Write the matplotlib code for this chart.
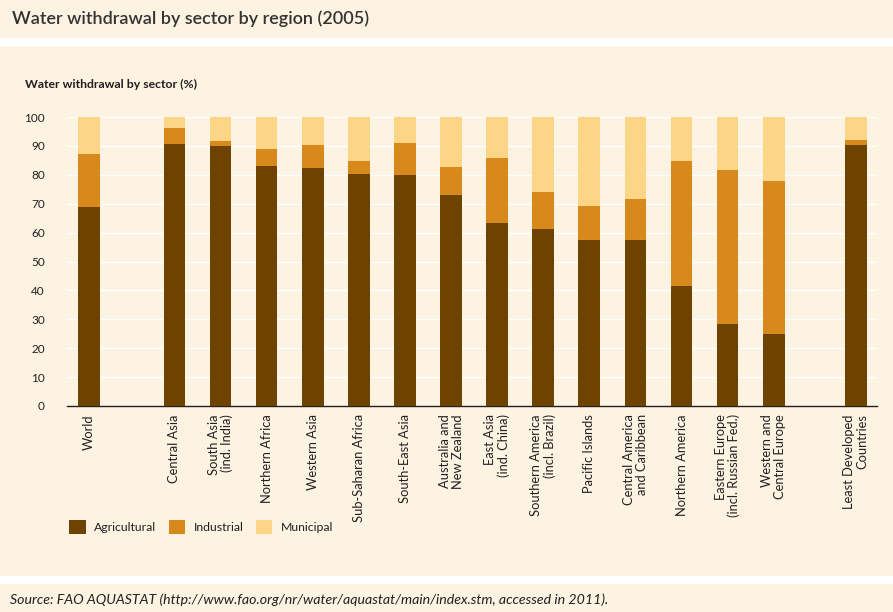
import numpy as np
import matplotlib
matplotlib.use("Agg")
import matplotlib.pyplot as plt
from matplotlib.patches import Rectangle, Patch

plt.rcParams["font.family"] = ["Lato", "DejaVu Sans"]

# data (% of total withdrawal)
regions = [
    "World", "Central Asia", "South Asia\n(ind. India)", "Northern Africa",
    "Western Asia", "Sub-Saharan Africa", "South-East Asia",
    "Australia and\nNew Zealand", "East Asia\n(ind. China)",
    "Southern America\n(incl. Brazil)", "Pacific Islands",
    "Central America\nand Caribbean", "Northern America",
    "Eastern Europe\n(incl. Russian Fed.)", "Western and\nCentral Europe",
    "Least Developed\nCountries",
]
agricultural = [69.0, 90.8, 90.1, 83.0, 82.4, 80.3, 79.9, 73.0, 63.3, 61.4,
                57.4, 57.4, 41.6, 28.4, 24.9, 90.3]
industrial   = [18.2, 5.4, 1.6, 5.9, 7.9, 4.5, 11.1, 9.7, 22.5, 12.6,
                11.8, 14.2, 43.2, 53.3, 53.0, 1.7]
municipal    = [12.8, 3.8, 8.3, 11.1, 9.7, 15.2, 9.0, 17.3, 14.2, 26.0,
                30.8, 28.4, 15.2, 18.3, 22.1, 8.0]
sectors = ["Agricultural", "Industrial", "Municipal"]
yticks = list(range(0, 101, 10))

BG      = "#FDF3E2"
COLORS  = ["#6E4300", "#D8891B", "#FDD586"]
TXT     = "#231F20"
W, H    = 893, 612

# World and LDC sit apart from the regional group
GAP = 0.85
xpos = np.arange(len(regions), dtype=float)
xpos[1:] += GAP
xpos[-1] += GAP - 0.07

fig = plt.figure(figsize=(W / 100, H / 100), dpi=100, facecolor=BG)
# white separator bands
for y0, y1 in [(38, 45), (576, 583)]:
    fig.patches.append(Rectangle((0, 1 - y1 / H), 1, (y1 - y0) / H,
                                 transform=fig.transFigure, color="white", zorder=0))

ax = fig.add_axes([67 / W, 1 - 406 / H, (877 - 67) / W, (406 - 117) / H])
ax.set_facecolor(BG)

bottom = np.zeros(len(regions))
for vals, col, lab in zip([agricultural, industrial, municipal], COLORS, sectors):
    ax.bar(xpos, vals, width=0.47, bottom=bottom, color=col, label=lab, zorder=3)
    bottom += np.array(vals)

ax.set_ylim(0, 100)
ax.set_xlim(xpos[0] - 0.48, xpos[-1] + 0.46)
ax.set_yticks(yticks)
ax.yaxis.grid(True, color="white", lw=0.9, zorder=1)
ax.tick_params(axis="y", length=0, pad=16, labelsize=8.5, labelcolor=TXT)
ax.tick_params(axis="x", length=0, pad=6)
ax.set_xticks(xpos)
ax.set_xticklabels(regions, rotation=90, fontsize=9.3, color=TXT,
                   ha="center", va="top", multialignment="right",
                   linespacing=1.1)
for s in ["top", "right", "left"]:
    ax.spines[s].set_visible(False)
ax.spines["bottom"].set_color("#231F20")
ax.spines["bottom"].set_linewidth(1.0)

fig.text(12 / W, 1 - 24 / H, "Water withdrawal by sector by region (2005)",
         fontsize=13, fontweight="semibold", color="#333333", va="baseline")
fig.text(25 / W, 1 - 88 / H, "Water withdrawal by sector (%)",
         fontsize=8.8, fontweight="bold", color=TXT, va="baseline")
fig.text(10 / W, 1 - 604 / H,
         "Source: FAO AQUASTAT (http://www.fao.org/nr/water/aquastat/main/index.stm, accessed in 2011).",
         fontsize=10.2, style="italic", color=TXT, va="baseline")

handles = [Patch(facecolor=c, edgecolor="none") for c in COLORS]
fig.legend(handles, sectors, loc="center left",
           bbox_to_anchor=(63 / W, 1 - 527 / H), ncol=3, frameon=False,
           fontsize=8.8, handlelength=1.35, handleheight=1.35,
           handletextpad=0.7, columnspacing=1.0, borderpad=0,
           labelcolor=TXT)

fig.savefig("out.png", dpi=100, facecolor=BG)
